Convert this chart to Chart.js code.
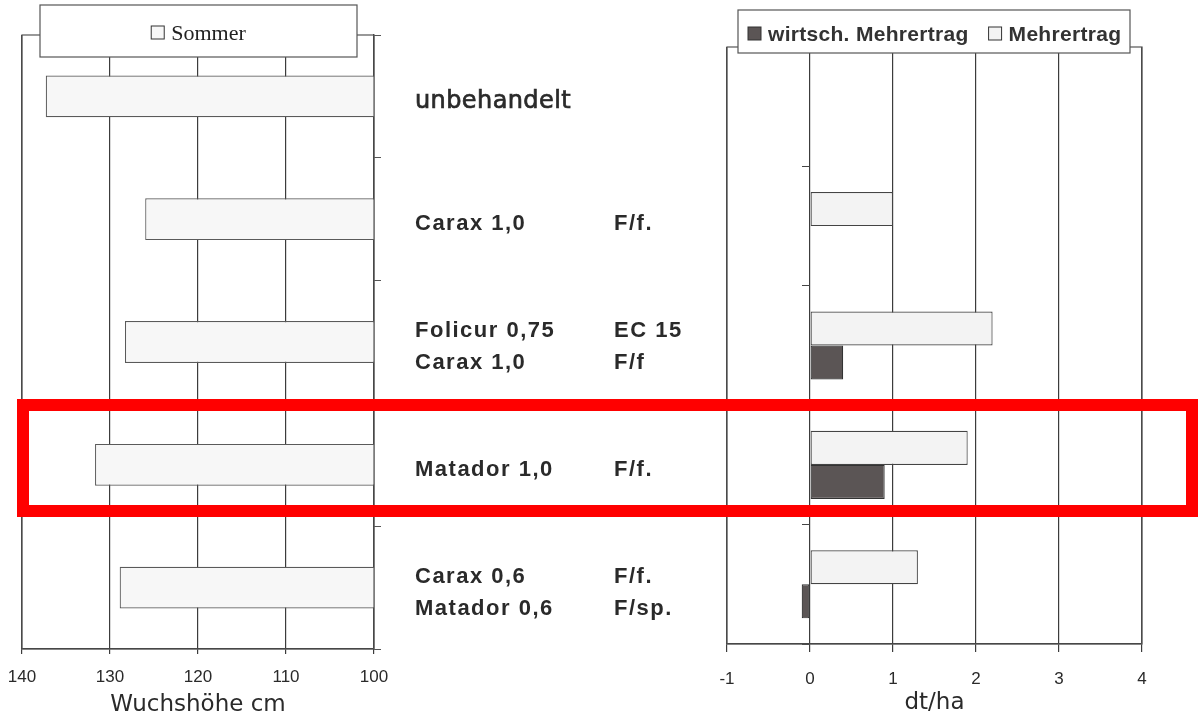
<!DOCTYPE html>
<html>
<head>
<meta charset="utf-8">
<script src="https://cdn.jsdelivr.net/npm/chart.js@4.4.1/dist/chart.umd.min.js"></script>
<style>
  body { margin: 0; background: #fff; }
  #wrap { position: relative; width: 1198px; height: 724px; overflow: hidden; background: #fff; }
  #hoehe { position: absolute; left: 0; top: 0; }
  #ertrag { position: absolute; left: 700px; top: 0; }
  #markierung {
    position: absolute; left: 17px; top: 399px; width: 1181px; height: 118px;
    box-sizing: border-box; border: 12px solid #ff0000; pointer-events: none;
  }
</style>
</head>
<body>
<div id="wrap">
  <canvas id="hoehe" width="700" height="724"></canvas>
  <canvas id="ertrag" width="498" height="724"></canvas>
  <div id="markierung"></div>
</div>
<script>
// data
var varianten = ['unbehandelt', 'Carax 1,0', 'Folicur 0,75 + Carax 1,0', 'Matador 1,0', 'Carax 0,6 + Matador 0,6'];
var mittel = [['unbehandelt'], ['Carax 1,0'], ['Folicur 0,75', 'Carax 1,0'], ['Matador 1,0'], ['Carax 0,6', 'Matador 0,6']];
var termine = [[''], ['F/f.'], ['EC 15', 'F/f'], ['F/f.'], ['F/f.', 'F/sp.']];
var wuchshoehe = [137.3, 126.0, 128.3, 131.7, 128.9];
var mehrertrag = [null, 1.0, 2.2, 1.9, 1.3];
var wirtschMehrertrag = [null, null, 0.4, 0.9, -0.1];
var hoeheTicks = [100, 140, 10];   // min, max, step
var ertragTicks = [-1, 4, 1];

var gridColor = '#3c3c3c';
var textColor = '#2a2a2a';

// frame round the plot area (top line is not drawn by an axis)
var rahmen = {
  id: 'rahmen',
  afterDatasetsDraw: function(chart) {
    var a = chart.chartArea, ctx = chart.ctx;
    ctx.save();
    ctx.strokeStyle = '#555';
    ctx.lineWidth = 1.2;
    ctx.strokeRect(a.left, a.top, a.right - a.left, a.bottom - a.top);
    ctx.restore();
  }
};

// labels between the two charts, placed on the category scale
var beschriftung = {
  id: 'beschriftung',
  afterDraw: function(chart) {
    var ctx = chart.ctx, y = chart.scales.y;
    ctx.save();
    ctx.fillStyle = textColor;
    ctx.strokeStyle = textColor;
    ctx.textBaseline = 'middle';
    for (var i = 0; i < mittel.length; i++) {
      var yc = y.getPixelForValue(i) + 5;
      var n = mittel[i].length;
      for (var j = 0; j < n; j++) {
        var yy = yc + (j - (n - 1) / 2) * 32;
        if (i === 0) {
          ctx.font = '24px "DejaVu Sans"';
          ctx.letterSpacing = '0.4px';
          ctx.lineWidth = 0.7;
          ctx.strokeText(mittel[i][j], 415, yy);
        } else {
          ctx.font = 'bold 22px "Liberation Sans"';
          ctx.letterSpacing = '1.5px';
        }
        ctx.fillText(mittel[i][j], 415, yy);
        ctx.fillText(termine[i][j], 614, yy);
      }
    }
    ctx.restore();
  }
};

var sommerLegende = {
  id: 'sommerLegende',
  afterDraw: function(chart) {
    var ctx = chart.ctx, ds = chart.data.datasets[0];
    var a = chart.chartArea;
    var l = a.left + 18, r = a.right - 17, t = 5, b = 57;
    ctx.save();
    ctx.fillStyle = '#fff';
    ctx.fillRect(l, t, r - l, b - t);
    ctx.strokeStyle = '#555';
    ctx.lineWidth = 1.2;
    ctx.strokeRect(l, t, r - l, b - t);
    ctx.font = '22px "Liberation Serif"';
    var tw = ctx.measureText(ds.label).width;
    var x0 = (l + r) / 2 - (13 + 7 + tw) / 2;
    ctx.fillStyle = ds.backgroundColor;
    ctx.fillRect(x0, 26, 13, 13);
    ctx.strokeStyle = '#333';
    ctx.lineWidth = 1;
    ctx.strokeRect(x0, 26, 13, 13);
    ctx.fillStyle = '#222';
    ctx.textBaseline = 'alphabetic';
    ctx.fillText(ds.label, x0 + 20, 40);
    ctx.restore();
  }
};

var ertragLegende = {
  id: 'ertragLegende',
  afterDraw: function(chart) {
    var ctx = chart.ctx, a = chart.chartArea;
    var l = a.left + 11, r = a.right - 12, t = 10, b = 53;
    ctx.save();
    ctx.fillStyle = '#fff';
    ctx.fillRect(l, t, r - l, b - t);
    ctx.strokeStyle = '#555';
    ctx.lineWidth = 1.2;
    ctx.strokeRect(l, t, r - l, b - t);
    ctx.font = 'bold 21px "Liberation Sans"';
    ctx.letterSpacing = '0.3px';
    ctx.textBaseline = 'alphabetic';
    var x = l + 10;
    var sets = chart.data.datasets.slice().reverse();
    sets.forEach(function(ds) {
      ctx.fillStyle = ds.backgroundColor;
      ctx.fillRect(x, 27, 13, 13);
      ctx.strokeStyle = '#333';
      ctx.lineWidth = 1;
      ctx.strokeRect(x, 27, 13, 13);
      ctx.fillStyle = '#333';
      ctx.fillText(ds.label, x + 20, 41);
      x += 20 + ctx.measureText(ds.label).width + 20;
    });
    ctx.restore();
  }
};

new Chart(document.getElementById('hoehe'), {
  type: 'bar',
  data: {
    labels: varianten,
    datasets: [{
      label: 'Sommer',
      data: wuchshoehe,
      backgroundColor: '#f7f7f7',
      borderColor: '#5a5a5a',
      borderWidth: 1.2,
      borderSkipped: false,
      barPercentage: 0.34,
      categoryPercentage: 1
    }]
  },
  options: {
    indexAxis: 'y',
    responsive: false,
    animation: false,
    layout: { padding: { left: 22, top: 35, right: 310, bottom: 0 } },
    plugins: { legend: { display: false }, tooltip: { enabled: false } },
    scales: {
      x: {
        type: 'linear',
        min: hoeheTicks[0], max: hoeheTicks[1], reverse: true,
        ticks: { stepSize: hoeheTicks[2], color: textColor, padding: 13,
                 font: { family: 'Liberation Sans', size: 17 } },
        grid: { color: gridColor, lineWidth: 1.2, tickLength: 5 },
        border: { color: '#333', width: 1.2 },
        title: { display: true, text: 'Wuchshöhe cm', color: textColor,
                 font: { family: 'DejaVu Sans', size: 23 }, padding: { top: 0, bottom: 5 } },
        afterFit: function(s) { s.height = 75; s.paddingLeft = 0; s.paddingRight = 0; }
      },
      y: {
        position: 'right',
        ticks: { display: false },
        grid: { drawOnChartArea: false, tickLength: 7, color: '#555' },
        border: { color: '#333', width: 1.2 },
        afterFit: function(s) { s.width = 16; }
      }
    }
  },
  plugins: [rahmen, beschriftung, sommerLegende]
});

new Chart(document.getElementById('ertrag'), {
  type: 'bar',
  data: {
    labels: varianten,
    datasets: [{
      label: 'Mehrertrag',
      data: mehrertrag,
      backgroundColor: '#f3f3f3',
      borderColor: '#444',
      borderWidth: 1.2,
      borderSkipped: false,
      barPercentage: 1,
      categoryPercentage: 0.57
    }, {
      label: 'wirtsch. Mehrertrag',
      data: wirtschMehrertrag,
      backgroundColor: '#5b5555',
      borderColor: '#333',
      borderWidth: 1.2,
      borderSkipped: false,
      barPercentage: 1,
      categoryPercentage: 0.57
    }]
  },
  options: {
    indexAxis: 'y',
    responsive: false,
    animation: false,
    layout: { padding: { left: 27, top: 47, right: 56, bottom: 0 } },
    plugins: { legend: { display: false }, tooltip: { enabled: false } },
    scales: {
      x: {
        type: 'linear',
        min: ertragTicks[0], max: ertragTicks[1],
        ticks: { stepSize: ertragTicks[2], color: textColor, padding: 17,
                 font: { family: 'Liberation Sans', size: 17 } },
        grid: { color: gridColor, lineWidth: 1.2, tickLength: 8 },
        border: { color: '#333', width: 1.2 },
        title: { display: true, text: 'dt/ha', color: textColor,
                 font: { family: 'DejaVu Sans', size: 23 }, padding: { top: 0, bottom: 7 } },
        afterFit: function(s) { s.height = 80; }
      },
      y: {
        position: { x: 0 },
        ticks: { display: false },
        grid: { drawOnChartArea: false, tickLength: 8, color: '#444' },
        border: { display: false }
      }
    }
  },
  plugins: [rahmen, ertragLegende]
});
</script>
</body>
</html>
